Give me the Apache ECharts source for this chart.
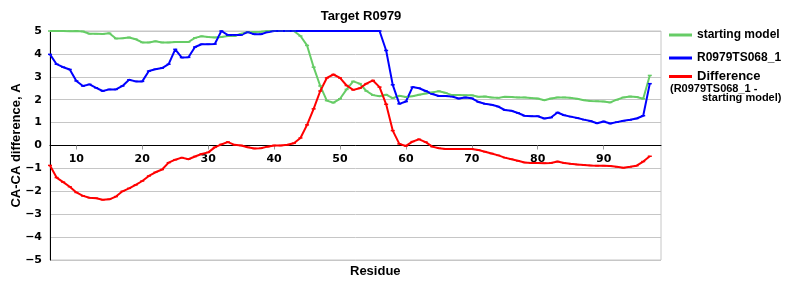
<!DOCTYPE html>
<html>
<head>
<meta charset="utf-8">
<script src="https://cdn.jsdelivr.net/npm/echarts@6/dist/echarts.min.js"></script>
<style>html,body{margin:0;padding:0;background:#fff}#chart{width:800px;height:300px}</style>
</head>
<body>
<div id="chart"></div>
<script>
const residues = [6,7,8,9,10,11,12,13,14,15,16,17,18,19,20,21,22,23,24,25,26,27,28,29,30,31,32,33,34,35,36,37,38,39,40,41,42,43,44,45,46,47,48,49,50,51,52,53,54,55,56,57,58,59,60,61,62,63,64,65,66,67,68,69,70,71,72,73,74,75,76,77,78,79,80,81,82,83,84,85,86,87,88,89,90,91,92,93,94,95,96,97];
const startingModel = [5.0,5.0,5.0,4.99,5.0,4.98,4.88,4.88,4.87,4.9,4.67,4.68,4.72,4.64,4.5,4.5,4.55,4.5,4.5,4.52,4.52,4.52,4.7,4.77,4.74,4.72,4.74,4.78,4.78,4.88,4.95,4.96,4.97,5.0,5.0,5.0,5.0,5.0,4.78,4.37,3.42,2.6,1.96,1.87,2.04,2.45,2.8,2.7,2.38,2.2,2.15,2.22,2.07,2.17,2.12,2.15,2.22,2.27,2.32,2.37,2.3,2.2,2.2,2.19,2.19,2.13,2.14,2.1,2.08,2.13,2.12,2.1,2.1,2.07,2.05,1.98,2.05,2.1,2.1,2.08,2.04,1.98,1.94,1.93,1.92,1.88,2.0,2.1,2.14,2.12,2.04,3.06];
const model068 = [3.98,3.55,3.42,3.32,2.82,2.6,2.67,2.52,2.38,2.45,2.45,2.6,2.87,2.8,2.8,3.25,3.33,3.38,3.55,4.2,3.84,3.85,4.3,4.42,4.42,4.43,5.0,4.82,4.82,4.83,4.95,4.86,4.86,4.95,5.0,5.0,5.0,5.0,5.0,5.0,5.0,5.0,5.0,5.0,5.0,5.0,5.0,5.0,5.0,5.0,5.0,4.15,2.65,1.82,1.92,2.55,2.5,2.38,2.25,2.16,2.16,2.14,2.05,2.1,2.06,1.9,1.82,1.78,1.7,1.55,1.52,1.42,1.3,1.28,1.28,1.18,1.22,1.44,1.32,1.26,1.2,1.13,1.07,0.97,1.05,0.96,1.02,1.08,1.12,1.18,1.3,2.7];
const difference = [-0.87,-1.4,-1.6,-1.8,-2.05,-2.2,-2.28,-2.3,-2.37,-2.35,-2.23,-2.0,-1.87,-1.72,-1.55,-1.33,-1.17,-1.05,-0.75,-0.62,-0.53,-0.6,-0.48,-0.37,-0.3,-0.08,0.05,0.15,0.03,0.0,-0.08,-0.13,-0.12,-0.05,0.0,0.0,0.03,0.1,0.33,0.9,1.6,2.38,2.95,3.1,2.95,2.62,2.43,2.5,2.7,2.84,2.55,1.8,0.65,0.07,-0.02,0.17,0.27,0.15,-0.05,-0.12,-0.15,-0.15,-0.15,-0.15,-0.15,-0.2,-0.27,-0.35,-0.43,-0.53,-0.6,-0.67,-0.74,-0.76,-0.76,-0.77,-0.76,-0.7,-0.76,-0.8,-0.83,-0.85,-0.87,-0.88,-0.88,-0.9,-0.93,-0.97,-0.93,-0.88,-0.7,-0.47];
const xTickValues = [10,20,30,40,50,60,70,80,90];

const pairs = (ys) => residues.map((r, i) => [r, ys[i]]);
const arial = '"Liberation Sans", Arial, sans-serif';
const dejavu = '"DejaVu Sans", Verdana, sans-serif';

const chart = echarts.init(document.getElementById('chart'), null, {renderer: 'canvas'});
const mkLine = (name, data, color) => ({
  name, type: 'line', data: pairs(data),
  showSymbol: true, symbol: 'rect', symbolSize: [4, 1.5],
  lineStyle: {color, width: 2}, itemStyle: {color},
  emphasis: {disabled: true}, animation: false
});
const mkLegend = (name, top, size) => ({
  data: [{name, icon: 'rect'}], left: 669, top, itemWidth: 23, itemHeight: 3, itemGap: 5, padding: 0,
  textStyle: {fontFamily: arial, fontWeight: 'bold', fontSize: size, color: '#000'},
  selectedMode: false
});
chart.setOption({
  animation: false,
  backgroundColor: '#fff',
  title: {text: 'Target R0979', left: 361, top: 10, textAlign: 'center', padding: 0,
    textStyle: {fontFamily: arial, fontWeight: 'bold', fontSize: 13, color: '#000'}},
  legend: [mkLegend('starting model', 29, 12), mkLegend('R0979TS068_1', 52, 12), mkLegend('Difference', 70, 13)],
  grid: {left: 50, right: 139, top: 31, bottom: 40, show: true, borderColor: '#c6c6c6', borderWidth: 1,
    outerBoundsMode: 'none', containLabel: false},
  xAxis: {
    type: 'value', min: 6, max: 98.7, position: 'bottom', offset: -114.5,
    axisLine: {onZero: false, lineStyle: {color: '#000', width: 1}},
    axisTick: {show: true, length: 4, lineStyle: {color: '#999'}, customValues: xTickValues},
    axisLabel: {customValues: xTickValues, margin: 8, fontFamily: dejavu, fontWeight: 'bold', fontSize: 11, color: '#000'},
    splitLine: {show: false}
  },
  yAxis: {
    type: 'value', min: -5, max: 5, interval: 1,
    name: 'CA-CA difference, A', nameLocation: 'middle', nameGap: 27, nameMoveOverlap: false,
    nameTextStyle: {fontFamily: arial, fontWeight: 'bold', fontSize: 13, color: '#000'},
    axisLine: {show: true, lineStyle: {color: '#000', width: 1}},
    axisTick: {show: false},
    axisLabel: {margin: 8, fontFamily: dejavu, fontWeight: 'bold', fontSize: 11, color: '#000',
      formatter: (v) => (v < 0 ? '\u2212' + Math.abs(v) : String(v))},
    splitLine: {show: true, lineStyle: {color: '#c6c6c6', width: 1}}
  },
  graphic: [
    {type: 'text', left: 350, top: 265, style: {text: 'Residue', font: 'bold 13px "Liberation Sans", Arial, sans-serif', fill: '#000'}},
    {type: 'text', left: 670, top: 83, style: {text: '(R0979TS068_1 -', font: 'bold 11px "Liberation Sans", Arial, sans-serif', fill: '#000'}},
    {type: 'text', left: 702, top: 92, style: {text: 'starting model)', font: 'bold 11px "Liberation Sans", Arial, sans-serif', fill: '#000'}}
  ],
  series: [
    mkLine('starting model', startingModel, '#66cc66'),
    mkLine('R0979TS068_1', model068, '#0000ff'),
    mkLine('Difference', difference, '#ff0000')
  ]
});
</script>
</body>
</html>
